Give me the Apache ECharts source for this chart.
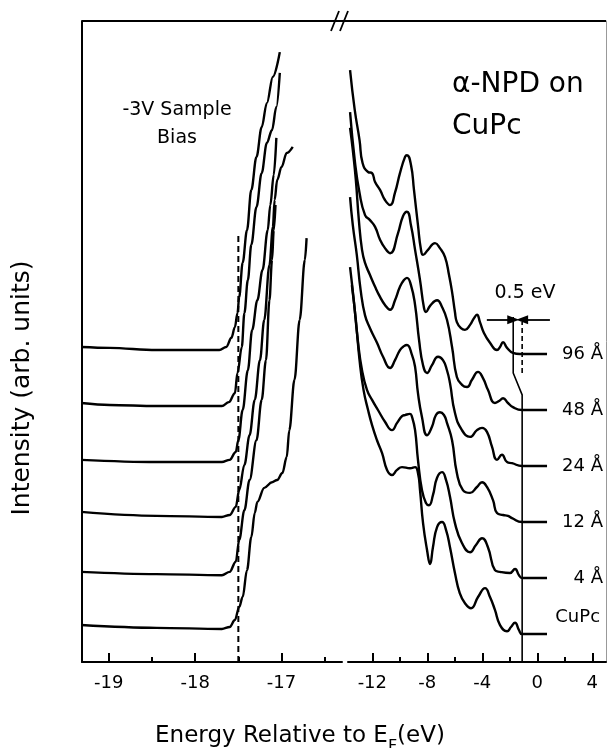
<!DOCTYPE html>
<html>
<head>
<meta charset="utf-8">
<script src="https://cdn.jsdelivr.net/npm/echarts@6/dist/echarts.min.js"></script>
<style>
html,body{margin:0;padding:0;background:#fff;}
#chart{width:608px;height:748px;}
</style>
</head>
<body>
<div id="chart"></div>
<script>
// ---------------- data (energy in eV, intensity in arb. units above each curve's own baseline) -------------
const curveNames   = ['96 Å', '48 Å', '24 Å', '12 Å', '4 Å', 'CuPc'];
const curveOffsets = [55, 45, 35, 25, 15, 5];

// secondary-electron cut-off region (left panel)
const seco96 = [[-19.32,1.25],[-18.99,1.1],[-18.45,0.7],[-17.72,0.7],[-17.64,1.25],[-17.58,2.9],[-17.54,4.8],[-17.51,7.3],[-17.49,10.2],[-17.45,16.3],[-17.40,22.1],[-17.35,29.3],[-17.29,35.2],[-17.23,40.5],[-17.17,44.8],[-17.10,49.5],[-17.02,53.9]];
const seco48 = [[-19.32,1.25],[-18.99,0.9],[-18.45,0.7],[-17.69,0.7],[-17.61,1.4],[-17.54,3.0],[-17.51,6.6],[-17.46,11.25],[-17.43,17.3],[-17.39,23.2],[-17.35,29.5],[-17.29,36.25],[-17.23,42.3],[-17.17,47.7],[-17.11,50.0],[-17.06,54.1],[-17.02,60.2]];
const seco24 = [[-19.32,1.1],[-18.45,0.7],[-17.69,0.7],[-17.60,1.1],[-17.53,2.5],[-17.50,4.6],[-17.45,10.0],[-17.39,17.1],[-17.34,24.3],[-17.28,29.6],[-17.22,35.0],[-17.16,42.1],[-17.13,46.6],[-17.09,52.0],[-17.06,58.6]];
const seco12 = [[-19.32,1.8],[-18.45,1.1],[-17.69,0.9],[-17.60,1.25],[-17.53,2.7],[-17.49,5.7],[-17.43,10.2],[-17.37,15.5],[-17.31,21.8],[-17.25,28.9],[-17.20,36.1],[-17.14,45.9],[-17.10,52.7],[-17.08,57.5],[-17.05,61.1],[-17.00,63.4],[-16.94,65.9],[-16.87,67.0]];
const seco4  = [[-19.32,1.1],[-18.45,0.7],[-17.69,0.5],[-17.60,1.1],[-17.53,2.9],[-17.49,6.8],[-17.43,12.1],[-17.37,17.5],[-17.29,24.6],[-17.23,31.8],[-17.18,38.9],[-17.14,49.6],[-17.11,56.8],[-17.09,62.1],[-17.07,66.6]];
const secoCuPc = [[-19.32,1.6],[-18.45,1.1],[-17.69,0.9],[-17.60,1.25],[-17.54,2.5],[-17.49,4.8],[-17.45,6.6],[-17.40,11.4],[-17.35,17.3],[-17.31,21.6],[-17.28,23.6],[-17.20,26.1],[-17.11,27.1],[-17.05,27.5],[-16.99,28.75],[-16.94,31.6],[-16.91,36.4],[-16.85,45.4],[-16.79,56.1],[-16.73,66.8],[-16.71,70.7]];

// valence region (right panel)
const val96 = [[-13.62,50.7],[-13.28,43.6],[-12.93,38.2],[-12.71,34.1],[-12.31,32.5],[-12.02,32.3],[-11.80,30.7],[-11.44,29.3],[-11.08,27.5],[-10.71,26.6],[-10.35,28.8],[-9.99,32.3],[-9.62,35.2],[-9.48,35.5],[-9.19,33.8],[-8.97,29.3],[-8.68,23.0],[-8.46,18.6],[-8.31,17.7],[-7.95,18.6],[-7.44,19.8],[-7.08,18.9],[-6.71,17.3],[-6.42,14.1],[-6.20,11.1],[-5.99,7.5],[-5.85,5.7],[-5.55,4.6],[-5.26,4.3],[-4.89,5.2],[-4.60,6.4],[-4.39,7.0],[-4.17,5.7],[-3.88,3.75],[-3.44,2.0],[-2.93,0.7],[-2.71,1.25],[-2.49,2.1],[-2.20,1.1],[-1.77,0.2],[-1.26,0],[0.71,0]];
const val48 = [[-13.62,53.2],[-13.28,44.6],[-12.93,38.75],[-12.53,34.8],[-12.17,33.9],[-11.80,32.7],[-11.44,30.4],[-11.08,28.9],[-10.71,28.0],[-10.13,31.6],[-9.77,34.6],[-9.48,35.4],[-9.19,33.0],[-8.89,28.6],[-8.53,23.2],[-8.24,18.2],[-8.10,17.5],[-7.80,18.6],[-7.29,19.6],[-6.93,18.4],[-6.57,16.1],[-6.20,11.25],[-5.85,5.9],[-5.48,4.5],[-5.11,4.1],[-4.75,5.4],[-4.31,6.8],[-3.95,5.7],[-3.59,3.6],[-3.08,1.25],[-2.78,1.6],[-2.49,2.1],[-2.13,1.25],[-1.77,0.5],[-1.11,0],[0.71,0]];
const val24 = [[-13.62,60.4],[-13.42,56.4],[-13.20,51.1],[-12.98,43.9],[-12.75,38.6],[-12.53,36.25],[-12.17,34.1],[-11.80,32.0],[-11.44,30.2],[-11.08,28.75],[-10.71,27.9],[-10.35,29.6],[-9.99,32.0],[-9.70,33.2],[-9.48,33.6],[-9.19,32.3],[-8.89,28.75],[-8.60,22.5],[-8.31,18.0],[-8.02,16.6],[-7.66,18.0],[-7.22,19.5],[-6.86,18.9],[-6.57,17.1],[-6.35,14.8],[-5.99,9.5],[-5.48,6.4],[-4.89,5.2],[-4.39,6.4],[-4.02,6.8],[-3.66,6.1],[-3.29,3.4],[-2.93,1.1],[-2.57,2.0],[-2.20,0.7],[-1.84,0.5],[-1.11,0],[0.71,0]];
const val12 = [[-13.62,58.0],[-13.42,53.0],[-13.13,47.7],[-12.85,41.4],[-12.53,36.9],[-12.17,34.6],[-11.66,32.0],[-11.22,29.5],[-10.71,27.5],[-10.35,28.9],[-9.99,30.7],[-9.70,31.4],[-9.48,31.6],[-9.11,29.8],[-8.89,27.7],[-8.68,23.0],[-8.39,18.75],[-8.02,15.5],[-7.66,17.0],[-7.37,19.1],[-7.08,19.6],[-6.79,19.1],[-6.57,17.7],[-6.20,14.6],[-5.85,8.75],[-5.41,5.7],[-4.89,5.2],[-4.39,6.25],[-4.02,7.1],[-3.66,6.25],[-3.22,3.9],[-2.93,1.6],[-2.49,1.25],[-2.13,1.1],[-1.84,0.7],[-1.11,0],[0.71,0]];
const val4 = [[-13.62,55.5],[-13.35,49.6],[-13.06,42.5],[-12.75,37.1],[-12.39,33.6],[-12.02,31.8],[-11.59,30.0],[-11.08,27.9],[-10.57,26.4],[-10.20,27.7],[-9.84,28.9],[-9.62,29.1],[-9.26,29.3],[-9.11,28.75],[-8.89,26.4],[-8.68,21.1],[-8.39,15.7],[-8.10,13.4],[-7.88,13.0],[-7.59,14.8],[-7.29,17.9],[-6.93,18.9],[-6.64,17.5],[-6.35,14.5],[-5.99,9.8],[-5.48,6.25],[-4.89,4.6],[-4.46,5.9],[-4.02,7.1],[-3.59,5.5],[-3.08,1.4],[-2.71,1.1],[-1.99,0.9],[-1.62,1.6],[-1.33,0.5],[-1.11,0],[0.71,0]];
const valCuPc = [[-13.49,62.3],[-13.20,56.1],[-12.93,48.9],[-12.64,43.6],[-12.31,40.0],[-12.02,37.3],[-11.66,34.6],[-11.29,32.3],[-10.93,29.3],[-10.57,28.4],[-10.20,29.3],[-9.84,29.8],[-9.26,29.6],[-8.89,29.8],[-8.68,28.75],[-8.53,25.7],[-8.31,19.8],[-8.02,15.0],[-7.80,12.5],[-7.59,15.5],[-7.29,19.1],[-6.93,20.0],[-6.64,18.6],[-6.35,15.5],[-5.99,10.9],[-5.64,7.3],[-5.26,5.5],[-4.82,4.6],[-4.31,6.6],[-3.80,8.2],[-3.44,6.6],[-3.08,4.3],[-2.71,1.6],[-2.20,0.5],[-1.91,1.25],[-1.62,2.0],[-1.33,0.7],[-1.11,0],[0.71,0]];

// guide lines (absolute plot units)
const secoCutoffLine  = [[-17.5,0],[-17.5,76.3]];
const homoOnsetLine   = [[-1.1,0],[-1.1,47.7],[-1.75,51.6],[-1.75,61.6]];
const homoOnsetDashed = [[-1.1,51.6],[-1.1,60.7]];
const shiftArrowLeft  = [[-3.67,61.1],[-1.75,61.1]];
const shiftArrowRight = [[0.92,61.1],[-1.1,61.1]];

// axes
const leftRange  = [-19.31, -16.30];
const rightRange = [-13.77, 5.0];
const yRange     = [0, 114.46];
const leftMajorTicks  = [-19, -18, -17];
const leftMinorTicks  = [-18.5, -17.5, -16.5];
const rightMajorTicks = [-12, -8, -4, 0, 4];
const rightMinorTicks = [-10, -6, -2, 2];

// ---------------- chart ----------------
const FONT = 'DejaVu Sans';
const LW = 2.4;
const secoSets = [seco96, seco48, seco24, seco12, seco4, secoCuPc];
const valSets  = [val96, val48, val24, val12, val4, valCuPc];

const series = [];
curveNames.forEach((name, i) => {
  const off = curveOffsets[i];
  series.push({
    type: 'line', name: name, xAxisIndex: 0, yAxisIndex: 0,
    data: secoSets[i].map(p => [p[0], p[1] + off]),
    showSymbol: false, symbol: 'none', smooth: 0.35, smoothMonotone: 'x',
    lineStyle: {color: '#000', width: LW}, silent: true
  });
  const isCuPc = name === 'CuPc';
  series.push({
    type: 'line', name: name, xAxisIndex: 2, yAxisIndex: 1,
    data: valSets[i].map(p => [p[0], p[1] + off]),
    showSymbol: false, symbol: 'none', smooth: 0.5,
    lineStyle: {color: '#000', width: LW}, silent: true,
    endLabel: {
      show: true, formatter: name, color: '#000', fontFamily: FONT, fontSize: 18,
      align: 'right', distance: isCuPc ? 53 : 56, offset: isCuPc ? [0, -17] : [0, 0]
    }
  });
});

series.push({type: 'line', xAxisIndex: 0, yAxisIndex: 0, data: secoCutoffLine, symbol: 'none',
  lineStyle: {color: '#000', width: 2, type: [6, 4]}, silent: true});
series.push({type: 'line', xAxisIndex: 2, yAxisIndex: 1, data: homoOnsetLine, symbol: 'none',
  lineStyle: {color: '#000', width: 1.6}, silent: true});
series.push({type: 'line', xAxisIndex: 2, yAxisIndex: 1, data: homoOnsetDashed, symbol: 'none',
  lineStyle: {color: '#000', width: 1.6, type: [5, 3]}, silent: true});
series.push({type: 'line', xAxisIndex: 2, yAxisIndex: 1, data: [], silent: true,
  markLine: {
    silent: true, animation: false, symbol: ['none', 'triangle'], symbolSize: [9, 12],
    label: {show: false}, lineStyle: {color: '#000', width: 1.8, type: 'solid'},
    data: [
      [{coord: shiftArrowLeft[0]}, {coord: shiftArrowLeft[1]}],
      [{coord: shiftArrowRight[0]}, {coord: shiftArrowRight[1]}]
    ]
  }});

function xAxisDef(grid, range, ticks, len, labels, line) {
  return {
    type: 'value', gridIndex: grid, position: 'bottom', min: range[0], max: range[1],
    axisLine: {show: line, onZero: false, lineStyle: {color: '#000', width: 2}},
    axisTick: {show: true, inside: true, length: len, customValues: ticks, lineStyle: {color: '#000', width: 2}},
    axisLabel: {show: labels, customValues: ticks, color: '#000', fontFamily: FONT, fontSize: 18, margin: 12,
      formatter: v => String(v)},
    splitLine: {show: false}
  };
}

const chart = echarts.init(document.getElementById('chart'), null, {renderer: 'canvas'});
chart.setOption({
  animation: false,
  backgroundColor: '#fff',
  grid: [
    {left: 82, top: 21, width: 260, height: 641},
    {left: 348, top: 21, width: 258, height: 641}
  ],
  xAxis: [
    xAxisDef(0, leftRange, leftMajorTicks, 9, true, true),
    xAxisDef(0, leftRange, leftMinorTicks, 5, false, false),
    xAxisDef(1, rightRange, rightMajorTicks, 9, true, true),
    xAxisDef(1, rightRange, rightMinorTicks, 5, false, false)
  ],
  yAxis: [
    {type: 'value', gridIndex: 0, position: 'left', min: yRange[0], max: yRange[1],
      axisLine: {show: true, onZero: false, lineStyle: {color: '#000', width: 2}},
      axisTick: {show: false}, axisLabel: {show: false}, splitLine: {show: false}},
    {type: 'value', gridIndex: 1, position: 'right', min: yRange[0], max: yRange[1],
      axisLine: {show: true, onZero: false, lineStyle: {color: '#999', width: 1}},
      axisTick: {show: false}, axisLabel: {show: false}, splitLine: {show: false}}
  ],
  series: series,
  graphic: [
    {type: 'line', shape: {x1: 82, y1: 21, x2: 606, y2: 21}, style: {stroke: '#000', lineWidth: 2}, silent: true},
    {type: 'line', shape: {x1: 331, y1: 31, x2: 339, y2: 11}, style: {stroke: '#000', lineWidth: 1.8}, silent: true},
    {type: 'line', shape: {x1: 340, y1: 31, x2: 348, y2: 11}, style: {stroke: '#000', lineWidth: 1.8}, silent: true},
    {type: 'text', x: 452, y: 85, style: {text: 'α-NPD on', fill: '#000', font: '28px "DejaVu Sans"', textAlign: 'left', textVerticalAlign: 'middle'}, silent: true},
    {type: 'text', x: 452, y: 127, style: {text: 'CuPc', fill: '#000', font: '28px "DejaVu Sans"', textAlign: 'left', textVerticalAlign: 'middle'}, silent: true},
    {type: 'text', x: 177, y: 110, style: {text: '-3V Sample', fill: '#000', font: '19px "DejaVu Sans"', textAlign: 'center', textVerticalAlign: 'middle'}, silent: true},
    {type: 'text', x: 177, y: 138, style: {text: 'Bias', fill: '#000', font: '19px "DejaVu Sans"', textAlign: 'center', textVerticalAlign: 'middle'}, silent: true},
    {type: 'text', x: 525, y: 293, style: {text: '0.5 eV', fill: '#000', font: '19px "DejaVu Sans"', textAlign: 'center', textVerticalAlign: 'middle'}, silent: true},
    {type: 'text', x: 22, y: 388, rotation: Math.PI / 2,
      style: {text: 'Intensity (arb. units)', fill: '#000', font: '25px "DejaVu Sans"', textAlign: 'center', textVerticalAlign: 'middle'}, silent: true},
    {type: 'text', x: 300, y: 740,
      style: {
        text: '{m|Energy Relative to E}{s|F}{m|(eV)}', fill: '#000', textAlign: 'center', textVerticalAlign: 'middle',
        rich: {
          m: {fontFamily: FONT, fontSize: 23, color: '#000', verticalAlign: 'bottom', padding: [0, 0, 7, 0]},
          s: {fontFamily: FONT, fontSize: 16, color: '#000', verticalAlign: 'bottom'}
        }
      }, silent: true}
  ]
});
</script>
</body>
</html>
